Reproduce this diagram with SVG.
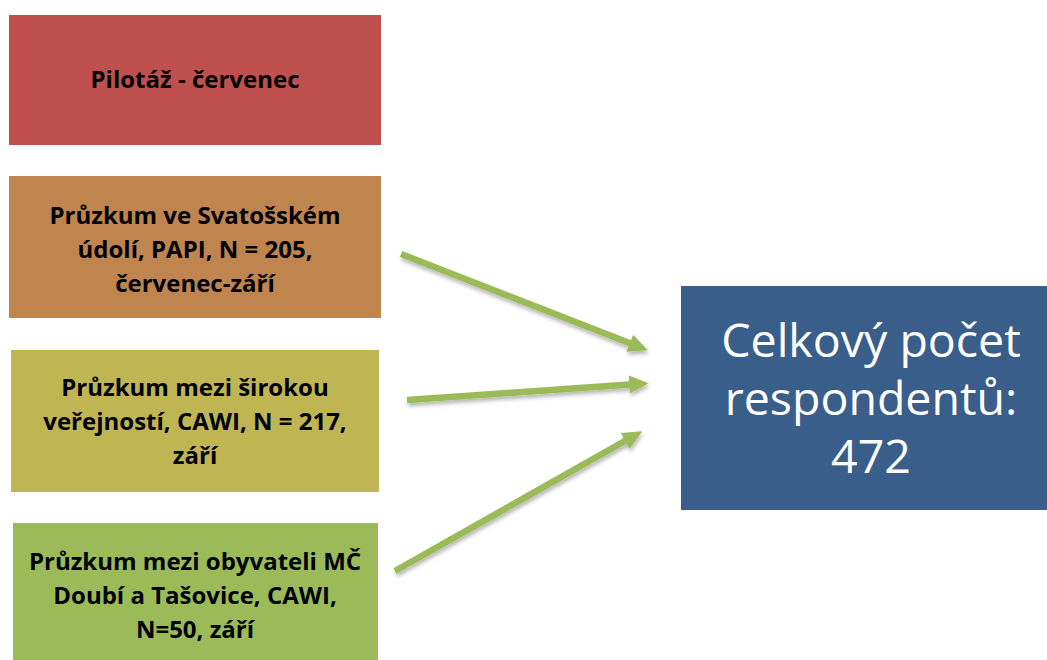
<svg xmlns="http://www.w3.org/2000/svg" width="1047" height="660" viewBox="0 0 1047 660">
<style>
.lbl{font-family:"Open Sans","Liberation Sans",sans-serif;font-weight:bold;font-size:24px;fill:#000;text-anchor:middle}
.big{font-family:"Open Sans","Liberation Sans",sans-serif;font-size:46.5px;fill:#fff;text-anchor:middle}
.arr{stroke:#9BBB59;stroke-width:6.5;fill:none;marker-end:url(#ah)}
</style>
<defs>
<marker id="ah" markerWidth="3" markerHeight="3" refX="1.2" refY="1.5" orient="auto" markerUnits="strokeWidth">
<path d="M0,0.1 L3,1.5 L0,2.9 z" fill="#9BBB59"/>
</marker>
<filter id="sh" x="-10%" y="-10%" width="120%" height="130%">
<feGaussianBlur in="SourceAlpha" stdDeviation="2"/>
<feOffset dx="1" dy="3" result="b"/>
<feComponentTransfer><feFuncA type="linear" slope="0.3"/></feComponentTransfer>
<feMerge><feMergeNode/><feMergeNode in="SourceGraphic"/></feMerge>
</filter>
</defs>
<rect width="1047" height="660" fill="#fff"/>
<g id="pilotaz">
<rect x="9" y="15" width="372" height="130" fill="#C0504D"/>
<text class="lbl" x="195" y="88">Pilotáž - červenec</text>
</g>
<g id="svatossko">
<rect x="9" y="176" width="372" height="142" fill="#C0844F"/>
<text class="lbl" x="195" y="224">Průzkum ve Svatošském</text>
<text class="lbl" x="195" y="258">údolí, PAPI, N = 205,</text>
<text class="lbl" x="195" y="292">červenec-září</text>
</g>
<g id="verejnost">
<rect x="11" y="350" width="368" height="142" fill="#BFB553"/>
<text class="lbl" x="195" y="396">Průzkum mezi širokou</text>
<text class="lbl" x="195" y="430">veřejností, CAWI, N = 217,</text>
<text class="lbl" x="195" y="464">září</text>
</g>
<g id="obyvatele">
<rect x="13" y="523" width="365" height="137" fill="#9BBB59"/>
<text class="lbl" x="195" y="570">Průzkum mezi obyvateli MČ</text>
<text class="lbl" x="195" y="604">Doubí a Tašovice, CAWI,</text>
<text class="lbl" x="195" y="638">N=50, září</text>
</g>
<g id="celkem">
<rect x="681" y="286" width="366" height="224" fill="#3A5E8A"/>
<text class="big" x="871" y="357">Celkový počet</text>
<text class="big" x="871" y="415">respondentů:</text>
<text class="big" x="871" y="473">472</text>
</g>
<g id="connectors" filter="url(#sh)">
<line class="arr" x1="401" y1="254" x2="637" y2="346"/>
<line class="arr" x1="407" y1="400" x2="637" y2="384"/>
<line class="arr" x1="395" y1="571" x2="632" y2="437"/>
</g>
</svg>
